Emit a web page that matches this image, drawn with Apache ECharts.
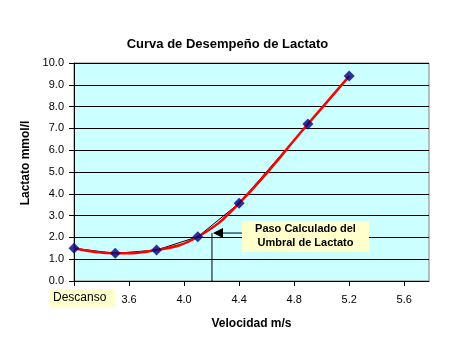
<!DOCTYPE html>
<html><head><meta charset="utf-8">
<script src="https://cdn.jsdelivr.net/npm/echarts@6/dist/echarts.min.js"></script>
<style>html,body{margin:0;padding:0;background:#fff}#c{width:455px;height:344px}</style>
</head><body><div id="c"></div>
<script>
var title = 'Curva de Desempeño de Lactato';
var xName = 'Velocidad m/s';
var yName = 'Lactato mmol/l';
var velocidad = [3.2, 3.5, 3.8, 4.1, 4.4, 4.9, 5.2];
var lactato = [1.5, 1.27, 1.42, 2.03, 3.57, 7.2, 9.4];
var xTicks = [3.2, 3.6, 4.0, 4.4, 4.8, 5.2, 5.6];
var xTickLabels = ['', '3.6', '4.0', '4.4', '4.8', '5.2', '5.6'];
var restLabel = 'Descanso';
var calloutLines = ['Paso Calculado del', 'Umbral de Lactato'];
var thresholdPoint = [4.21, 2.2];

var pts = velocidad.map(function(v, i){ return [v, lactato[i]]; });
var chart = echarts.init(document.getElementById('c'), null, {renderer:'canvas'});
var font = 'Arial, "Liberation Sans", sans-serif';
chart.setOption({
  animation:false,
  backgroundColor:'#fff',
  title:{text:title,left:'center',top:33,textStyle:{fontFamily:font,fontSize:13,fontWeight:'bold',color:'#000'}},
  grid:{left:74,top:63,right:26,bottom:63,show:true,backgroundColor:'#CCFFFF',borderColor:'#808080',borderWidth:1},
  xAxis:{type:'value',min:3.2,max:5.78,interval:0.4,
    name:xName,nameLocation:'middle',nameGap:37,
    nameTextStyle:{fontFamily:font,fontSize:12,fontWeight:'bold',color:'#000'},
    axisLine:{lineStyle:{color:'#000'}},
    axisTick:{show:true,length:5,lineStyle:{color:'#000'},customValues:xTicks},
    splitLine:{show:false},
    axisLabel:{customValues:xTicks,margin:13,fontFamily:font,fontSize:11,color:'#000',
      formatter:function(v){var i=xTicks.findIndex(function(t){return Math.abs(t-v)<1e-6;});return i>=0?xTickLabels[i]:'';}}
  },
  yAxis:{type:'value',min:0,max:10,interval:1,
    name:yName,nameLocation:'middle',nameGap:40,nameRotate:90,
    nameTextStyle:{fontFamily:font,fontSize:12,fontWeight:'bold',color:'#000',padding:[0,0,0,18]},
    axisLine:{show:true,lineStyle:{color:'#000'}},
    axisTick:{show:true,length:5,lineStyle:{color:'#000'}},
    splitLine:{show:true,lineStyle:{color:'#000',width:1}},
    axisLabel:{margin:10,fontFamily:font,fontSize:11,color:'#000',formatter:function(v){return v.toFixed(1);}}
  },
  series:[
    {type:'line',data:pts,symbol:'none',lineStyle:{color:'#000',width:1},z:2},
    {type:'line',data:pts,symbol:'none',smooth:0.45,lineStyle:{color:'#FF0000',width:2.5},z:3},
    {type:'scatter',data:pts,symbol:'diamond',symbolSize:11,itemStyle:{color:'#000080'},z:4}
  ]
});
var tp = chart.convertToPixel({gridIndex:0}, thresholdPoint);
var base = chart.convertToPixel({gridIndex:0}, [3.2, 0]);
var boxX = tp[0] + 29, boxY = tp[1] - 12;
chart.setOption({graphic:[
  {type:'rect',shape:{x:base[0]-24,y:base[1]+8,width:65,height:18},style:{fill:'#FFFFCC'},z:10},
  {type:'text',x:base[0]-21,y:base[1]+17,style:{text:restLabel,fontFamily:font,fontSize:12,fill:'#000',verticalAlign:'middle'},z:11},
  {type:'line',shape:{x1:tp[0]-1,y1:tp[1],x2:tp[0]-1,y2:base[1]},style:{stroke:'#000',lineWidth:1},z:10},
  {type:'line',shape:{x1:tp[0]+10,y1:tp[1],x2:boxX,y2:tp[1]},style:{stroke:'#000',lineWidth:1},z:10},
  {type:'polygon',shape:{points:[[tp[0],tp[1]],[tp[0]+10,tp[1]-5],[tp[0]+10,tp[1]+5]]},style:{fill:'#000'},z:10},
  {type:'rect',shape:{x:boxX,y:boxY,width:127,height:31},style:{fill:'#FFFFCC'},z:10},
  {type:'text',x:boxX+63.5,y:boxY+8,style:{text:calloutLines[0],fontFamily:font,fontSize:11,fontWeight:'bold',fill:'#000',align:'center',verticalAlign:'middle'},z:11},
  {type:'text',x:boxX+63.5,y:boxY+22,style:{text:calloutLines[1],fontFamily:font,fontSize:11,fontWeight:'bold',fill:'#000',align:'center',verticalAlign:'middle'},z:11}
]});
</script></body></html>
